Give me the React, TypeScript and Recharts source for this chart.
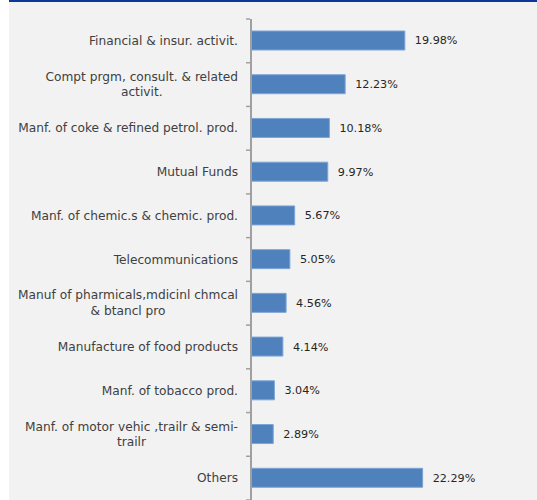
import React from "react";
import { BarChart, Bar, XAxis, YAxis, LabelList } from "recharts";

const categories = [
  "Financial & insur. activit.",
  "Compt prgm, consult. & related\nactivit.",
  "Manf. of coke & refined petrol. prod.",
  "Mutual Funds",
  "Manf. of chemic.s & chemic. prod.",
  "Telecommunications",
  "Manuf of pharmicals,mdicinl chmcal\n& btancl pro",
  "Manufacture of food products",
  "Manf. of tobacco prod.",
  "Manf. of motor vehic ,trailr & semi-\ntrailr",
  "Others",
];
const shares = [19.98, 12.23, 10.18, 9.97, 5.67, 5.05, 4.56, 4.14, 3.04, 2.89, 22.29];

const data = categories.map((name, i) => ({ name, value: shares[i] }));

const FONT = "'DejaVu Sans', sans-serif";
const FONT_SIZE = 12.2;
const TICK_MARGIN = 13;
const TEXT_COLOR = "#404040";

let ctx: CanvasRenderingContext2D | null = null;
function measure(s: string): number {
  if (!ctx) {
    const c = document.createElement("canvas");
    ctx = c.getContext("2d");
  }
  if (!ctx) return s.length * 6;
  ctx.font = `${FONT_SIZE}px ${FONT}`;
  return ctx.measureText(s).width;
}

function CategoryTick(props: any) {
  const { x, y, payload, index } = props;
  const lines = String(payload.value).split("\n");
  const maxW = Math.max(...lines.map(measure));
  const cx = x - maxW / 2;
  const lineH = 15.5;
  const startY = y - ((lines.length - 1) * lineH) / 2;
  const half = payload.offset ?? 21.85;
  const axisX = x + TICK_MARGIN - 1;
  return (
    <g>
      <line x1={axisX - 4} x2={axisX} y1={y - half} y2={y - half} stroke="#a0a0a0" strokeWidth={1.5} />
      {index === categories.length - 1 && (
        <line x1={axisX - 4} x2={axisX} y1={y + half} y2={y + half} stroke="#a0a0a0" strokeWidth={1.5} />
      )}
      {lines.map((ln, i) => (
        <text
          key={i}
          x={cx}
          y={startY + i * lineH}
          textAnchor="middle"
          dominantBaseline="central"
          fontSize={FONT_SIZE}
          fontFamily={FONT}
          fill={TEXT_COLOR}
        >
          {ln}
        </text>
      ))}
    </g>
  );
}

export default function App() {
  return (
    <div
      style={{
        position: "absolute",
        left: 9,
        top: 0,
        width: 528,
        height: 500,
        background: "#f2f2f2",
        borderTop: "2px solid #0d3796",
        boxSizing: "border-box",
      }}
    >
      <BarChart
        width={528}
        height={498}
        data={data}
        layout="vertical"
        margin={{ top: 17, right: 55, bottom: 0, left: 0 }}
        barCategoryGap="28%"
      >
        <XAxis type="number" domain={[0, 30]} hide />
        <YAxis
          type="category"
          dataKey="name"
          width={242}
          tickLine={false}
          tickSize={0}
          tickMargin={TICK_MARGIN}
          axisLine={{ stroke: "#a0a0a0", strokeWidth: 2 }}
          tick={<CategoryTick />}
          interval={0}
        />
        <Bar dataKey="value" fill="#4f81bd" stroke="#7ea5d6" strokeWidth={1} barSize={19} isAnimationActive={false}>
          <LabelList
            dataKey="value"
            position="right"
            offset={10}
            formatter={(v: any) => `${Number(v).toFixed(2)}%`}
            style={{ fontSize: 11.2, fontFamily: FONT, fill: "#262626" }}
          />
        </Bar>
      </BarChart>
    </div>
  );
}
